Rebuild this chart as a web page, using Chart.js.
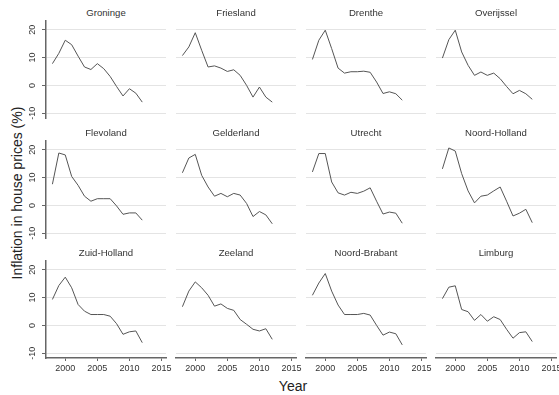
<!DOCTYPE html>
<html>
<head>
<meta charset="utf-8">
<script src="https://cdn.jsdelivr.net/npm/chart.js@4/dist/chart.umd.min.js"></script>
<style>
  body { margin: 0; background: #fff; }
  #wrap { position: relative; width: 559px; height: 395px; background: #fff; font-family: "Liberation Sans", Arial, sans-serif; overflow: hidden; }
  #wrap canvas { position: absolute; }
  .ttl { position: absolute; width: 120px; height: 10px; line-height: 10px; font-size: 9.6px; color: #333; text-align: center; }
  #ylab { position: absolute; left: -133px; top: 185px; width: 300px; height: 16px; line-height: 16px; font-size: 14px; color: #222; text-align: center; transform: rotate(-90deg); }
  #xlab { position: absolute; left: 243px; top: 378px; width: 100px; height: 16px; line-height: 16px; font-size: 14px; color: #222; text-align: center; }
</style>
</head>
<body>
<div id="wrap">
  <div id="ylab">Inflation in house prices (%)</div>
  <div id="xlab">Year</div>
</div>
<script>
const years = [1998, 1999, 2000, 2001, 2002, 2003, 2004, 2005, 2006, 2007, 2008, 2009, 2010, 2011, 2012];
const provinces = ['Groninge', 'Friesland', 'Drenthe', 'Overijssel', 'Flevoland', 'Gelderland',
                   'Utrecht', 'Noord-Holland', 'Zuid-Holland', 'Zeeland', 'Noord-Brabant', 'Limburg'];
const xTicks = [2000, 2005, 2010, 2015];
const yTicks = [-10, 0, 10, 20];

const groningen    = [7.8, 11.5, 16.2, 14.6, 10.5, 6.6, 5.7, 7.8, 6.0, 3.2, -0.4, -3.8, -1.2, -2.8, -6.0];
const friesland    = [10.7, 13.8, 18.9, 12.6, 6.6, 7.0, 6.2, 5.0, 5.6, 3.6, 0.0, -4.2, -0.6, -4.2, -6.0];
const drenthe      = [9.3, 16.2, 19.8, 13.2, 6.2, 4.4, 4.9, 4.9, 5.1, 4.7, 1.2, -2.9, -2.3, -3.0, -5.3];
const overijssel   = [9.8, 16.4, 19.8, 12.0, 7.2, 3.6, 4.8, 3.6, 4.4, 2.4, -0.4, -3.0, -1.8, -3.0, -5.0];
const flevoland    = [7.6, 18.8, 18.1, 10.4, 7.2, 3.3, 1.5, 2.4, 2.4, 2.4, -0.2, -3.2, -2.7, -2.7, -5.3];
const gelderland   = [11.7, 17.0, 18.3, 10.8, 6.6, 3.3, 4.3, 3.1, 4.3, 3.7, 0.7, -4.0, -2.2, -3.4, -6.6];
const utrecht      = [12.0, 18.6, 18.6, 8.4, 4.5, 3.7, 4.7, 4.3, 5.1, 6.3, 1.5, -3.1, -2.4, -2.8, -6.4];
const noordHolland = [13.1, 20.6, 19.5, 11.4, 5.2, 0.9, 3.3, 3.7, 5.2, 6.6, 1.5, -3.8, -2.8, -1.4, -6.2];
const zuidHolland  = [9.3, 14.3, 17.3, 13.5, 7.5, 5.1, 3.9, 3.9, 3.9, 3.3, 0.6, -3.2, -2.3, -2.0, -6.2];
const zeeland      = [6.7, 12.3, 15.6, 13.5, 10.8, 6.9, 7.7, 6.1, 5.4, 2.1, 0.4, -1.4, -2.0, -1.2, -5.0];
const noordBrabant = [10.8, 15.2, 18.6, 12.3, 7.3, 3.9, 3.9, 3.9, 4.3, 3.7, 0.0, -3.5, -2.4, -3.0, -7.0];
const limburg      = [9.6, 13.7, 14.2, 5.7, 4.9, 1.8, 3.9, 1.5, 3.1, 2.1, -1.4, -4.6, -2.6, -2.3, -5.8];

const values = [groningen, friesland, drenthe, overijssel, flevoland, gelderland,
                utrecht, noordHolland, zuidHolland, zeeland, noordBrabant, limburg];

const wrap = document.getElementById('wrap');
const plotW = 120, plotH = 97;
const P = 12; // spare room round each canvas so edge labels are not cut

// keep the plot area fixed: no extra padding from tick labels
function noPad(s) {
    s.paddingTop = 0; s.paddingBottom = 0; s.paddingLeft = 0; s.paddingRight = 0;
}

provinces.forEach(function(name, i) {
    const r = Math.floor(i / 4), c = i % 4;
    const plotLeft = 46 + c * 130, plotTop = 21 + r * 120;
    const L = c === 0 ? 46 : 0;   // room for y tick labels
    const B = r === 2 ? 24 : 0;   // room for x tick labels

    const t = document.createElement('div');
    t.className = 'ttl';
    t.style.left = plotLeft + 'px';
    t.style.top = (plotTop - 13) + 'px';
    t.textContent = name;
    wrap.appendChild(t);

    const cv = document.createElement('canvas');
    cv.width = plotW + L + 2 * P;
    cv.height = plotH + B + 2 * P;
    cv.style.left = (plotLeft - L - P) + 'px';
    cv.style.top = (plotTop - P) + 'px';
    wrap.appendChild(cv);

    new Chart(cv.getContext('2d'), {
        type: 'line',
        data: {
            datasets: [{
                data: years.map((y, k) => ({ x: y, y: values[i][k] })),
                borderColor: '#555',
                borderWidth: 1,
                pointRadius: 0,
                tension: 0
            }]
        },
        options: {
            responsive: false,
            animation: false,
            layout: { padding: P },
            plugins: { legend: { display: false }, tooltip: { enabled: false } },
            scales: {
                x: {
                    type: 'linear',
                    min: 1997,
                    max: 2015.7,
                    display: r === 2,
                    afterBuildTicks: s => { s.ticks = xTicks.map(v => ({ value: v })); },
                    afterFit: s => { s.height = B; noPad(s); },
                    grid: { drawOnChartArea: false, drawTicks: true, tickLength: 3, tickColor: '#666' },
                    border: { display: true, color: '#666', width: 1.5 },
                    ticks: {
                        font: { size: 9, family: 'Liberation Sans' },
                        color: '#333',
                        padding: 2,
                        maxRotation: 0,
                        callback: v => String(v)
                    }
                },
                y: {
                    min: -11.7,
                    max: 23.1,
                    afterBuildTicks: s => { s.ticks = yTicks.map(v => ({ value: v })); },
                    afterFit: s => { s.width = L; noPad(s); },
                    grid: { color: '#e4e4e4', lineWidth: 1, drawTicks: c === 0, tickLength: 4, tickColor: '#666' },
                    border: { display: c === 0, color: '#666', width: 1.5 },
                    ticks: {
                        display: c === 0,
                        font: { size: 9, family: 'Liberation Sans' },
                        color: '#333',
                        minRotation: 90,
                        maxRotation: 90,
                        crossAlign: 'center',
                        padding: 3
                    }
                }
            }
        }
    });
});
</script>
</body>
</html>
